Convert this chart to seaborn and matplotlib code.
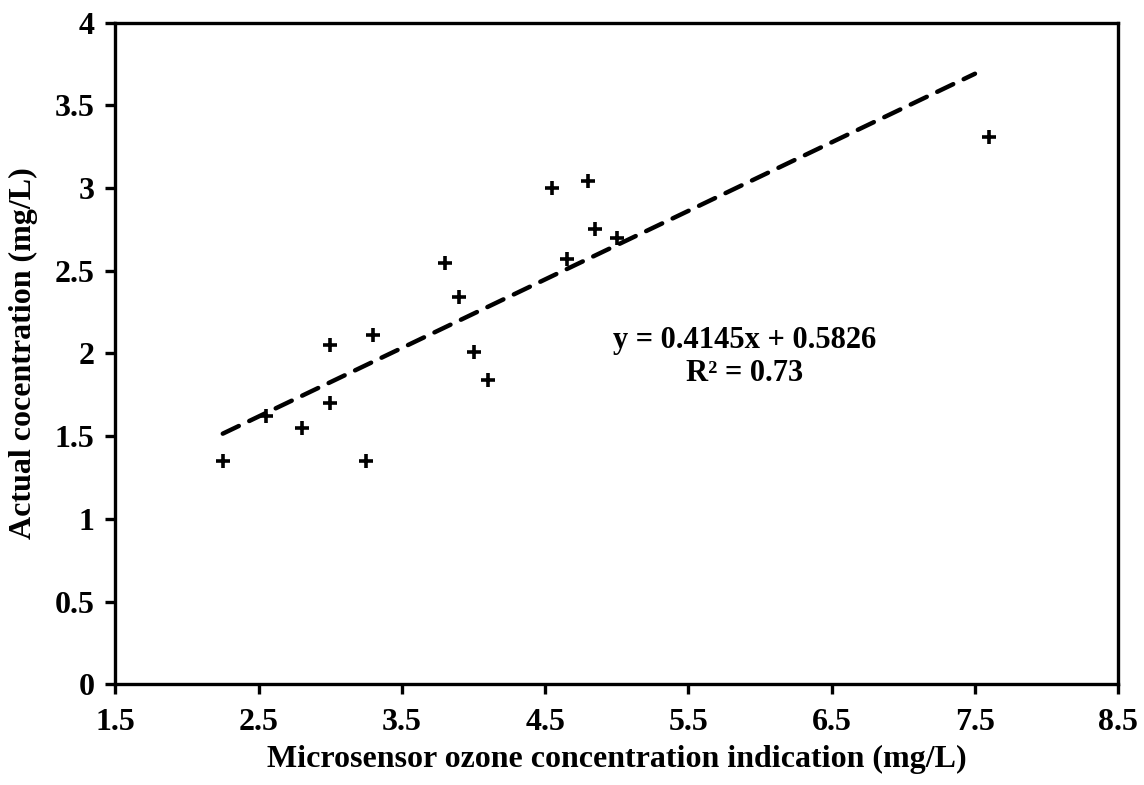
import matplotlib
matplotlib.use("Agg")
import matplotlib.pyplot as plt
import seaborn as sns
import numpy as np
import pandas as pd

# Data
sensor = [2.25, 2.55, 2.80, 3.00, 3.00, 3.30, 3.25, 3.80, 3.90, 4.00, 4.10,
          4.55, 4.80, 4.85, 5.00, 4.65, 7.60]
actual = [1.35, 1.62, 1.55, 1.70, 2.05, 2.11, 1.35, 2.55, 2.34, 2.01, 1.84,
          3.00, 3.04, 2.75, 2.70, 2.57, 3.31]
slope = 0.4145
intercept = 0.5826
r_squared = 0.73
trend_x = [2.25, 7.5]
x_ticks = [1.5, 2.5, 3.5, 4.5, 5.5, 6.5, 7.5, 8.5]
y_ticks = [0, 0.5, 1, 1.5, 2, 2.5, 3, 3.5, 4]

sns.set_theme(style="ticks")
plt.rcParams['font.family'] = ['Liberation Serif', 'DejaVu Serif']
plt.rcParams['font.weight'] = 'bold'
plt.rcParams['text.color'] = 'black'
plt.rcParams['axes.labelcolor'] = 'black'
plt.rcParams['xtick.color'] = 'black'
plt.rcParams['ytick.color'] = 'black'

fig = plt.figure(figsize=(11.44, 7.85), dpi=100)
ax = fig.add_axes([0.1008, 0.1283, 0.8767, 0.8428])

df = pd.DataFrame({"x": sensor, "y": actual})
sns.scatterplot(data=df, x="x", y="y", marker="+", s=110, color="black",
                linewidth=2.6, ax=ax, zorder=3)

tdf = pd.DataFrame({"x": trend_x,
                    "y": [slope * v + intercept for v in trend_x]})
sns.lineplot(data=tdf, x="x", y="y", color="black", linewidth=3.2,
             dashes=False, ax=ax, zorder=2)
ax.lines[-1].set_linestyle((0, (4.0, 2.6)))
ax.lines[-1].set_dash_capstyle("round")

ax.set_xlim(1.5, 8.5)
ax.set_ylim(0, 4)
ax.set_xticks(x_ticks)
ax.set_xticklabels([f"{v:g}" for v in x_ticks])
ax.set_yticks(y_ticks)
ax.set_yticklabels([f"{v:g}" for v in y_ticks])

for sp in ax.spines.values():
    sp.set_visible(True)
    sp.set_color("black")
    sp.set_linewidth(2.4)

ax.tick_params(axis="both", which="major", direction="out", length=7,
               width=2.4, color="black", labelcolor="black", labelsize=23,
               bottom=True, left=True, top=False, right=False)
ax.tick_params(axis="x", pad=10)
ax.tick_params(axis="y", pad=8)
for lab in ax.get_xticklabels() + ax.get_yticklabels():
    lab.set_fontweight("bold")

ax.set_xlabel("Microsensor ozone concentration indication (mg/L)",
              fontsize=23, fontweight="bold", labelpad=6, color="black")
ax.set_ylabel("Actual cocentration (mg/L)", fontsize=23, fontweight="bold",
              labelpad=12, color="black")

ax.text(5.89, 1.98, f"y = {slope}x + {intercept}\nR\u00b2 = {r_squared}",
        ha="center", va="center", fontsize=22, fontweight="bold",
        linespacing=1.2, color="black")

fig.savefig("out.png", dpi=100)
